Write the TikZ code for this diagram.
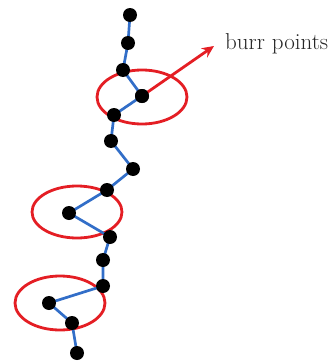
\documentclass[tikz,border=0pt]{standalone}
\usetikzlibrary{arrows.meta}
\definecolor{linkblue}{RGB}{50,110,200}
\definecolor{burrred}{RGB}{228,30,36}
\begin{document}
\begin{tikzpicture}[x=1pt,y=-1pt,
  pt/.style={circle,fill=black,inner sep=0pt,minimum size=14pt},
  link/.style={linkblue,line width=2.7pt},
  ring/.style={burrred,line width=2.8pt},
  lbl/.style={font=\fontsize{23}{26}\selectfont,text=black!85,inner sep=0pt,anchor=west}]
\useasboundingbox (0,0) rectangle (329,364);
\draw[ring] (142,97) ellipse [x radius=45, y radius=27];
\draw[ring] (77,212) ellipse [x radius=45, y radius=26];
\draw[ring] (60,303) ellipse [x radius=45, y radius=27];
\coordinate (c1) at (130,15);
\coordinate (c2) at (128,43);
\coordinate (c3) at (123,70);
\coordinate (c4) at (142,96);
\coordinate (c5) at (114,115);
\coordinate (c6) at (111,141);
\coordinate (c7) at (133,169);
\coordinate (c8) at (107,190);
\coordinate (c9) at (69,213);
\coordinate (c10) at (110,237);
\coordinate (c11) at (103,260);
\coordinate (c12) at (103,286);
\coordinate (c13) at (49,303);
\coordinate (c14) at (72,323);
\coordinate (c15) at (77,353);
\draw[link] (c1)--(c2)--(c3)--(c4)--(c5)--(c6)--(c7)--(c8)--(c9)--(c10)--(c11)--(c12)--(c13)--(c14)--(c15);
\foreach \i in {1,...,15} \node[pt] (n\i) at (c\i) {};
\node[lbl] (t) at (225,44) {burr points};
\coordinate (tip) at (214,46);
\draw[burrred,line width=2.8pt,-{Stealth[length=12pt,width=11pt]}] (n4.center) -- (tip);
\node[pt] at (c4) {};
\end{tikzpicture}
\end{document}
